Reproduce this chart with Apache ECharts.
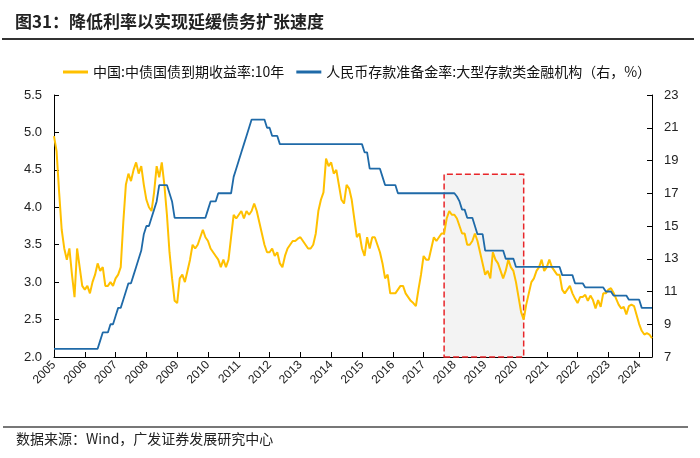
<!DOCTYPE html>
<html>
<head>
<meta charset="utf-8">
<script src="https://cdn.jsdelivr.net/npm/echarts@6/dist/echarts.min.js"></script>
<style>html,body{margin:0;padding:0;background:#fff;}#c{width:700px;height:458px;}</style>
</head>
<body>
<div id="c"></div>
<script>
var titleText = '图31：降低利率以实现延缓债务扩张速度';
var sourceText = '数据来源：Wind，广发证券发展研究中心';
var seriesNames = ['中国:中债国债到期收益率:10年', '人民币存款准备金率:大型存款类金融机构（右，%）'];
var years = [2005,2006,2007,2008,2009,2010,2011,2012,2013,2014,2015,2016,2017,2018,2019,2020,2021,2022,2023,2024];
var lastYearMonths = 6;
// 10Y yield, monthly
var yield10y = [
  4.95,4.75,4.2,3.7,3.45,3.3,3.45,3.1,2.8,3.45,3.2,2.95,
  2.9,2.95,2.85,3.0,3.1,3.25,3.15,3.2,2.95,2.95,3.0,2.95,
  3.05,3.1,3.2,3.8,4.3,4.45,4.35,4.5,4.6,4.45,4.55,4.3,
  4.1,4.0,3.95,4.2,4.55,4.4,4.6,4.3,3.9,3.4,3.05,2.75,
  2.72,3.05,3.1,3.0,3.15,3.3,3.5,3.45,3.5,3.6,3.7,3.6,
  3.55,3.45,3.4,3.35,3.3,3.2,3.3,3.2,3.3,3.6,3.9,3.85,
  3.9,3.95,3.85,3.95,3.9,3.95,4.05,3.95,3.8,3.65,3.5,3.4,
  3.4,3.45,3.35,3.4,3.25,3.2,3.35,3.45,3.5,3.55,3.55,3.58,
  3.6,3.55,3.5,3.45,3.45,3.5,3.65,3.95,4.1,4.2,4.65,4.55,
  4.6,4.45,4.5,4.3,4.1,4.05,4.3,4.25,4.1,3.85,3.6,3.65,
  3.45,3.35,3.6,3.45,3.6,3.6,3.5,3.4,3.25,3.05,3.1,2.85,
  2.85,2.85,2.9,2.95,2.95,2.85,2.8,2.75,2.72,2.68,2.9,3.1,
  3.35,3.3,3.3,3.45,3.6,3.55,3.6,3.65,3.65,3.85,3.95,3.9,
  3.9,3.85,3.75,3.65,3.65,3.5,3.5,3.55,3.65,3.55,3.4,3.25,
  3.1,3.15,3.05,3.4,3.3,3.25,3.15,3.05,3.15,3.3,3.2,3.15,
  3.0,2.8,2.6,2.5,2.7,2.85,3.0,3.05,3.15,3.2,3.3,3.15,
  3.2,3.3,3.2,3.15,3.1,3.1,2.9,2.85,2.9,2.95,2.85,2.78,
  2.72,2.8,2.8,2.83,2.75,2.82,2.76,2.65,2.76,2.67,2.85,2.85,
  2.9,2.92,2.86,2.78,2.7,2.65,2.67,2.57,2.68,2.7,2.68,2.56,
  2.44,2.35,2.3,2.32,2.3,2.25
];
// RRR large banks, monthly
var rrrLarge = [
  7.5,7.5,7.5,7.5,7.5,7.5,7.5,7.5,7.5,7.5,7.5,7.5,
  7.5,7.5,7.5,7.5,7.5,7.5,8.0,8.5,8.5,8.5,9.0,9.0,
  9.5,10,10,10.5,11,11.5,11.5,12,12.5,13,13.5,14.5,
  15,15,15.5,16,16.5,17.5,17.5,17.5,17.5,17,16.5,15.5,
  15.5,15.5,15.5,15.5,15.5,15.5,15.5,15.5,15.5,15.5,15.5,15.5,
  16,16.5,16.5,16.5,17,17,17,17,17,17,18,18.5,
  19,19.5,20,20.5,21,21.5,21.5,21.5,21.5,21.5,21.5,21,
  21,20.5,20.5,20.5,20,20,20,20,20,20,20,20,
  20,20,20,20,20,20,20,20,20,20,20,20,
  20,20,20,20,20,20,20,20,20,20,20,20,
  20,19.5,19.5,18.5,18.5,18.5,18.5,18.5,18,17.5,17.5,17.5,
  17.5,17.5,17,17,17,17,17,17,17,17,17,17,
  17,17,17,17,17,17,17,17,17,17,17,17,
  17,16.8,16.5,16,16,15.5,15.5,15.5,15,14.5,14.5,14.5,
  13.5,13.5,13.5,13.5,13.5,13.5,13.5,13.5,13,13,13,13,
  12.5,12.5,12.5,12.5,12.5,12.5,12.5,12.5,12.5,12.5,12.5,12.5,
  12.5,12.5,12.5,12.5,12.5,12.5,12,12,12,12,12,11.5,
  11.5,11.5,11.5,11.25,11.25,11.25,11.25,11.25,11.25,11.25,11.25,11,
  11,11,10.75,10.75,10.75,10.75,10.75,10.75,10.5,10.5,10.5,10.5,
  10.5,10,10,10,10,10
];
var highlightStart = '2017-09';
var highlightEnd = '2020-04';
var highlightTop = 4.44;

var months = [];
years.forEach(function (y, i) {
  var n = (i === years.length - 1) ? lastYearMonths : 12;
  for (var m = 1; m <= n; m++) months.push(y + '-' + (m < 10 ? '0' + m : '' + m));
});
function isJan(idx, v) { return v.slice(5) === '01'; }

var chart = echarts.init(document.getElementById('c'), null, {renderer: 'canvas'});
var font = '"Liberation Sans", Arial, sans-serif';
var cjk = '"Noto Sans CJK SC", sans-serif';
chart.setOption({
  animation: false,
  backgroundColor: '#fff',
  title: {
    text: titleText, left: 10, top: 8,
    textStyle: {fontFamily: cjk, fontSize: 17, fontWeight: 'bold', color: '#222'}
  },
  graphic: [
    {type: 'rect', shape: {x: 2, y: 38, width: 692, height: 2}, style: {fill: '#333'}},
    {type: 'rect', shape: {x: 3, y: 426, width: 685, height: 2}, style: {fill: '#777'}},
    {type: 'text', left: 16, top: 432, style: {text: sourceText, font: '14px ' + cjk, fill: '#222'}}
  ],
  legend: {
    top: 60, left: 58, itemGap: 12, itemWidth: 25, itemHeight: 3, icon: 'rect',
    textStyle: {fontFamily: cjk, fontSize: 14, color: '#111'},
    data: seriesNames
  },
  grid: {left: 54, right: 48, top: 95, bottom: 101, containLabel: false},
  xAxis: {
    type: 'category', data: months, boundaryGap: false,
    axisLine: {lineStyle: {color: '#000', width: 1}},
    axisTick: {inside: true, length: 5, interval: isJan, lineStyle: {color: '#000'}},
    axisLabel: {interval: isJan, rotate: 45, formatter: function (v) { return v.slice(0, 4); },
      fontFamily: font, fontSize: 12, color: '#222', margin: 6},
    splitLine: {show: false}
  },
  yAxis: [
    {type: 'value', min: 2.0, max: 5.5, interval: 0.5, position: 'left',
      axisLine: {show: true, lineStyle: {color: '#000'}},
      axisTick: {show: true, inside: true, length: 5, lineStyle: {color: '#000'}},
      axisLabel: {formatter: function (v) { return v.toFixed(1); }, fontFamily: font, fontSize: 13, color: '#222', margin: 12},
      splitLine: {show: false}},
    {type: 'value', min: 7, max: 23, interval: 2, position: 'right',
      axisLine: {show: true, lineStyle: {color: '#000'}},
      axisTick: {show: true, inside: true, length: 5, lineStyle: {color: '#000'}},
      axisLabel: {fontFamily: font, fontSize: 13, color: '#222', margin: 12},
      splitLine: {show: false}}
  ],
  series: [
    {name: seriesNames[0], type: 'line', yAxisIndex: 0, data: yield10y, symbol: 'none',
      lineStyle: {color: '#FFC000', width: 2}, itemStyle: {color: '#FFC000'},
      markArea: {silent: true,
        itemStyle: {color: '#F3F3F3', borderColor: '#E8262A', borderType: 'dashed', borderWidth: 1.5},
        data: [[{xAxis: highlightStart, yAxis: 2.0}, {xAxis: highlightEnd, yAxis: highlightTop}]]}},
    {name: seriesNames[1], type: 'line', yAxisIndex: 1, data: rrrLarge, symbol: 'none',
      lineStyle: {color: '#1F6AA8', width: 1.8}, itemStyle: {color: '#1F6AA8'}}
  ]
});
</script>
</body>
</html>
